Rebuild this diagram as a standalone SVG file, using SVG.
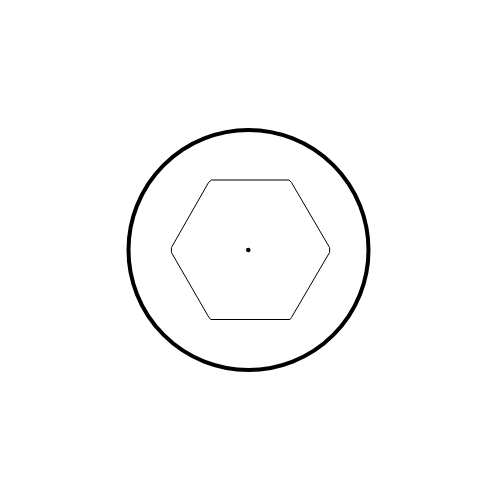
<svg xmlns="http://www.w3.org/2000/svg" width="500" height="500" viewBox="0 0 500 500">
<style>
.ring{fill:none;stroke:#000;stroke-width:4}
.hex{fill:none;stroke:#000;stroke-width:1}
.dot{fill:#000}
</style>
<rect width="500" height="500" fill="#fff"/>
<g id="ring"><circle class="ring" cx="248.5" cy="250" r="120"/></g>
<g id="hexagon"><polygon class="hex" points="171.4,247.6 208.6,182.4 211.5,180 289,180 291.4,182.4 329.6,247.6 329.6,252.4 291.4,317.6 290,319.5 211,319.5 209,317.6 171.4,252.4"/></g>
<g id="center"><circle class="dot" cx="248.3" cy="250" r="2.3"/></g>
<g id="connectors"></g>
</svg>
